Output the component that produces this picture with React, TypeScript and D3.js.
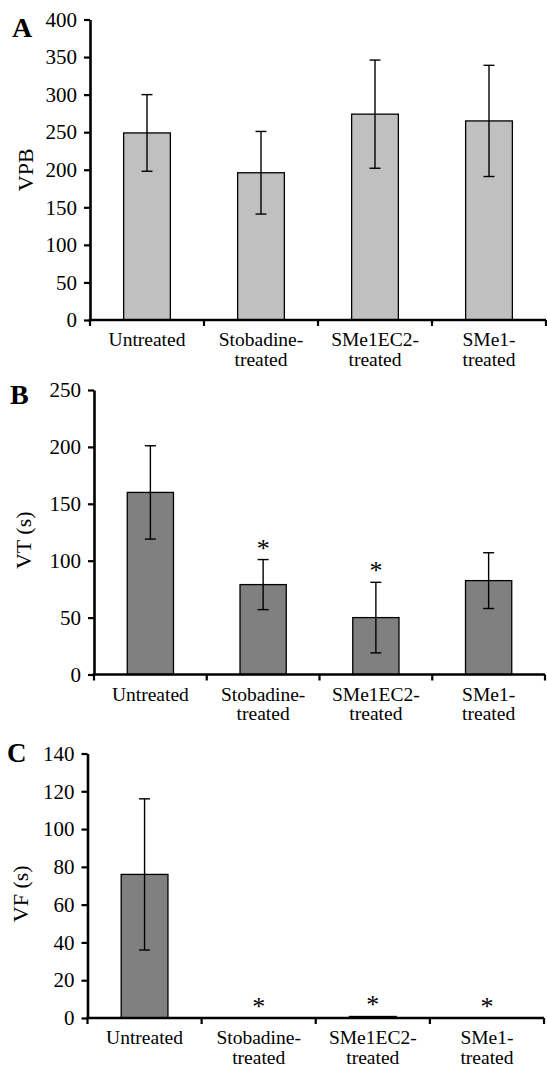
import React, { useEffect, useRef } from "react";
import * as d3 from "d3";

// groups on the x axis (same for all three panels)
const groups = ["Untreated", "Stobadine-treated", "SMe1EC2-treated", "SMe1-treated"];
const groupLines = [["Untreated"], ["Stobadine-", "treated"], ["SMe1EC2-", "treated"], ["SMe1-", "treated"]];

// panel A: VPB
const vpbMean = [249, 196, 274, 265];
const vpbSd = [51, 55, 72, 74];
const vpbStar = [false, false, false, false];
const vpbTicks = [0, 50, 100, 150, 200, 250, 300, 350, 400];

// panel B: VT (s)
const vtMean = [160, 79, 50, 82.5];
const vtSd = [41, 22, 31, 24.5];
const vtStar = [false, true, true, false];
const vtTicks = [0, 50, 100, 150, 200, 250];

// panel C: VF (s)
const vfMean = [76, 0, 0.8, 0];
const vfSd = [40, 0, 0, 0];
const vfStar = [false, true, true, true];
const vfTicks = [0, 20, 40, 60, 80, 100, 120, 140];

const FONT = "'Liberation Serif', 'Times New Roman', serif";

// layout of each panel in page pixels
const layout = [
  { letter: "A", title: "VPB", mean: vpbMean, sd: vpbSd, star: vpbStar, ticks: vpbTicks,
    fill: "#c0c0c0", xr: [90, 546], yr: [320, 19.5], lx: 12, ly: 37, ls: 28, tx: 33, tyOff: 0 },
  { letter: "B", title: "VT (s)", mean: vtMean, sd: vtSd, star: vtStar, ticks: vtTicks,
    fill: "#808080", xr: [94, 545], yr: [674.5, 390], lx: 10, ly: 404, ls: 28, tx: 31, tyOff: 8 },
  { letter: "C", title: "VF (s)", mean: vfMean, sd: vfSd, star: vfStar, ticks: vfTicks,
    fill: "#808080", xr: [87.5, 544], yr: [1018, 753.5], lx: 7, ly: 762, ls: 27, tx: 28, tyOff: 8 },
];

export default function App() {
  const svgRef = useRef<SVGSVGElement>(null);

  useEffect(() => {
    const svg = d3.select(svgRef.current);
    svg.selectAll("*").remove();

    layout.forEach((p) => {
      const g = svg.append("g");
      const x = d3.scaleBand().domain(groups).range(p.xr as [number, number]).padding(0);
      const y = d3.scaleLinear().domain([0, p.ticks[p.ticks.length - 1]]).range(p.yr as [number, number]);
      const barW = x.bandwidth() * 0.41;
      const y0 = y(0);

      // bars
      g.selectAll("rect.bar")
        .data(groups)
        .join("rect")
        .attr("class", "bar")
        .attr("x", (d) => x(d)! + (x.bandwidth() - barW) / 2)
        .attr("width", barW)
        .attr("y", (d, i) => y(p.mean[i]))
        .attr("height", (d, i) => y0 - y(p.mean[i]))
        .attr("fill", p.fill)
        .attr("stroke", "#000")
        .attr("stroke-width", 1.3);

      // error bars
      const withErr = groups.map((d, i) => ({ d, i })).filter((e) => p.sd[e.i] > 0);
      const cx = (d: string) => x(d)! + x.bandwidth() / 2;
      const eb = g.selectAll("g.err").data(withErr).join("g").attr("class", "err")
        .attr("stroke", "#000").attr("stroke-width", 1.4);
      eb.append("line")
        .attr("x1", (e) => cx(e.d)).attr("x2", (e) => cx(e.d))
        .attr("y1", (e) => y(p.mean[e.i] + p.sd[e.i]))
        .attr("y2", (e) => y(p.mean[e.i] - p.sd[e.i]));
      eb.selectAll("line.cap")
        .data((e) => [p.mean[e.i] + p.sd[e.i], p.mean[e.i] - p.sd[e.i]].map((v) => ({ v, d: e.d })))
        .join("line")
        .attr("class", "cap")
        .attr("x1", (c) => cx(c.d) - 5.5).attr("x2", (c) => cx(c.d) + 5.5)
        .attr("y1", (c) => y(c.v)).attr("y2", (c) => y(c.v));

      // significance stars
      g.selectAll("text.star")
        .data(groups.map((d, i) => ({ d, i })).filter((e) => p.star[e.i]))
        .join("text")
        .attr("class", "star")
        .attr("x", (e) => cx(e.d))
        .attr("y", (e) => y(p.mean[e.i] + p.sd[e.i]) - 15 + 12)
        .attr("text-anchor", "middle")
        .attr("font-family", FONT)
        .attr("font-size", 26)
        .text("*");

      // y axis
      const ya = g.append("g")
        .attr("transform", `translate(${p.xr[0]},0)`)
        .call(d3.axisLeft(y).tickValues(p.ticks).tickSize(6).tickSizeOuter(0).tickPadding(7));
      ya.select(".domain").attr("stroke-width", 2.6);
      ya.selectAll(".tick line").attr("stroke-width", 2.2);
      ya.selectAll(".tick text").attr("font-family", FONT).attr("font-size", 21).attr("fill", "#000");

      // x axis with ticks between the groups
      const xa = g.append("g").attr("stroke", "#000");
      xa.append("line")
        .attr("x1", p.xr[0] - 1.3).attr("x2", p.xr[1])
        .attr("y1", y0).attr("y2", y0)
        .attr("stroke-width", 2.6);
      const bounds = groups.map((d) => x(d)!).concat([p.xr[1]]);
      xa.selectAll("line.xt").data(bounds).join("line")
        .attr("class", "xt")
        .attr("x1", (b) => b).attr("x2", (b) => b)
        .attr("y1", y0).attr("y2", y0 + 6)
        .attr("stroke-width", 2.2);

      // category labels
      const lab = g.selectAll("text.cat").data(groups).join("text")
        .attr("class", "cat")
        .attr("text-anchor", "middle")
        .attr("font-family", FONT)
        .attr("font-size", 19.5)
        .attr("fill", "#000");
      lab.selectAll("tspan")
        .data((d, i) => groupLines[i].map((t) => ({ t, d })))
        .join("tspan")
        .attr("x", (s) => cx(s.d))
        .attr("y", (s, j) => y0 + 26 + j * 19.5)
        .text((s) => s.t);

      // axis title
      g.append("text")
        .attr("transform", `translate(${p.tx},${(p.yr[0] + p.yr[1]) / 2 + p.tyOff}) rotate(-90)`)
        .attr("text-anchor", "middle")
        .attr("font-family", FONT)
        .attr("font-size", 22)
        .text(p.title);

      // panel letter
      g.append("text")
        .attr("x", p.lx).attr("y", p.ly)
        .attr("font-family", FONT)
        .attr("font-weight", "bold")
        .attr("font-size", p.ls)
        .text(p.letter);
    });
  }, []);

  return (
    <svg
      ref={svgRef}
      width={547}
      height={1067}
      style={{ position: "absolute", left: 0, top: 0, background: "#fff" }}
    />
  );
}
